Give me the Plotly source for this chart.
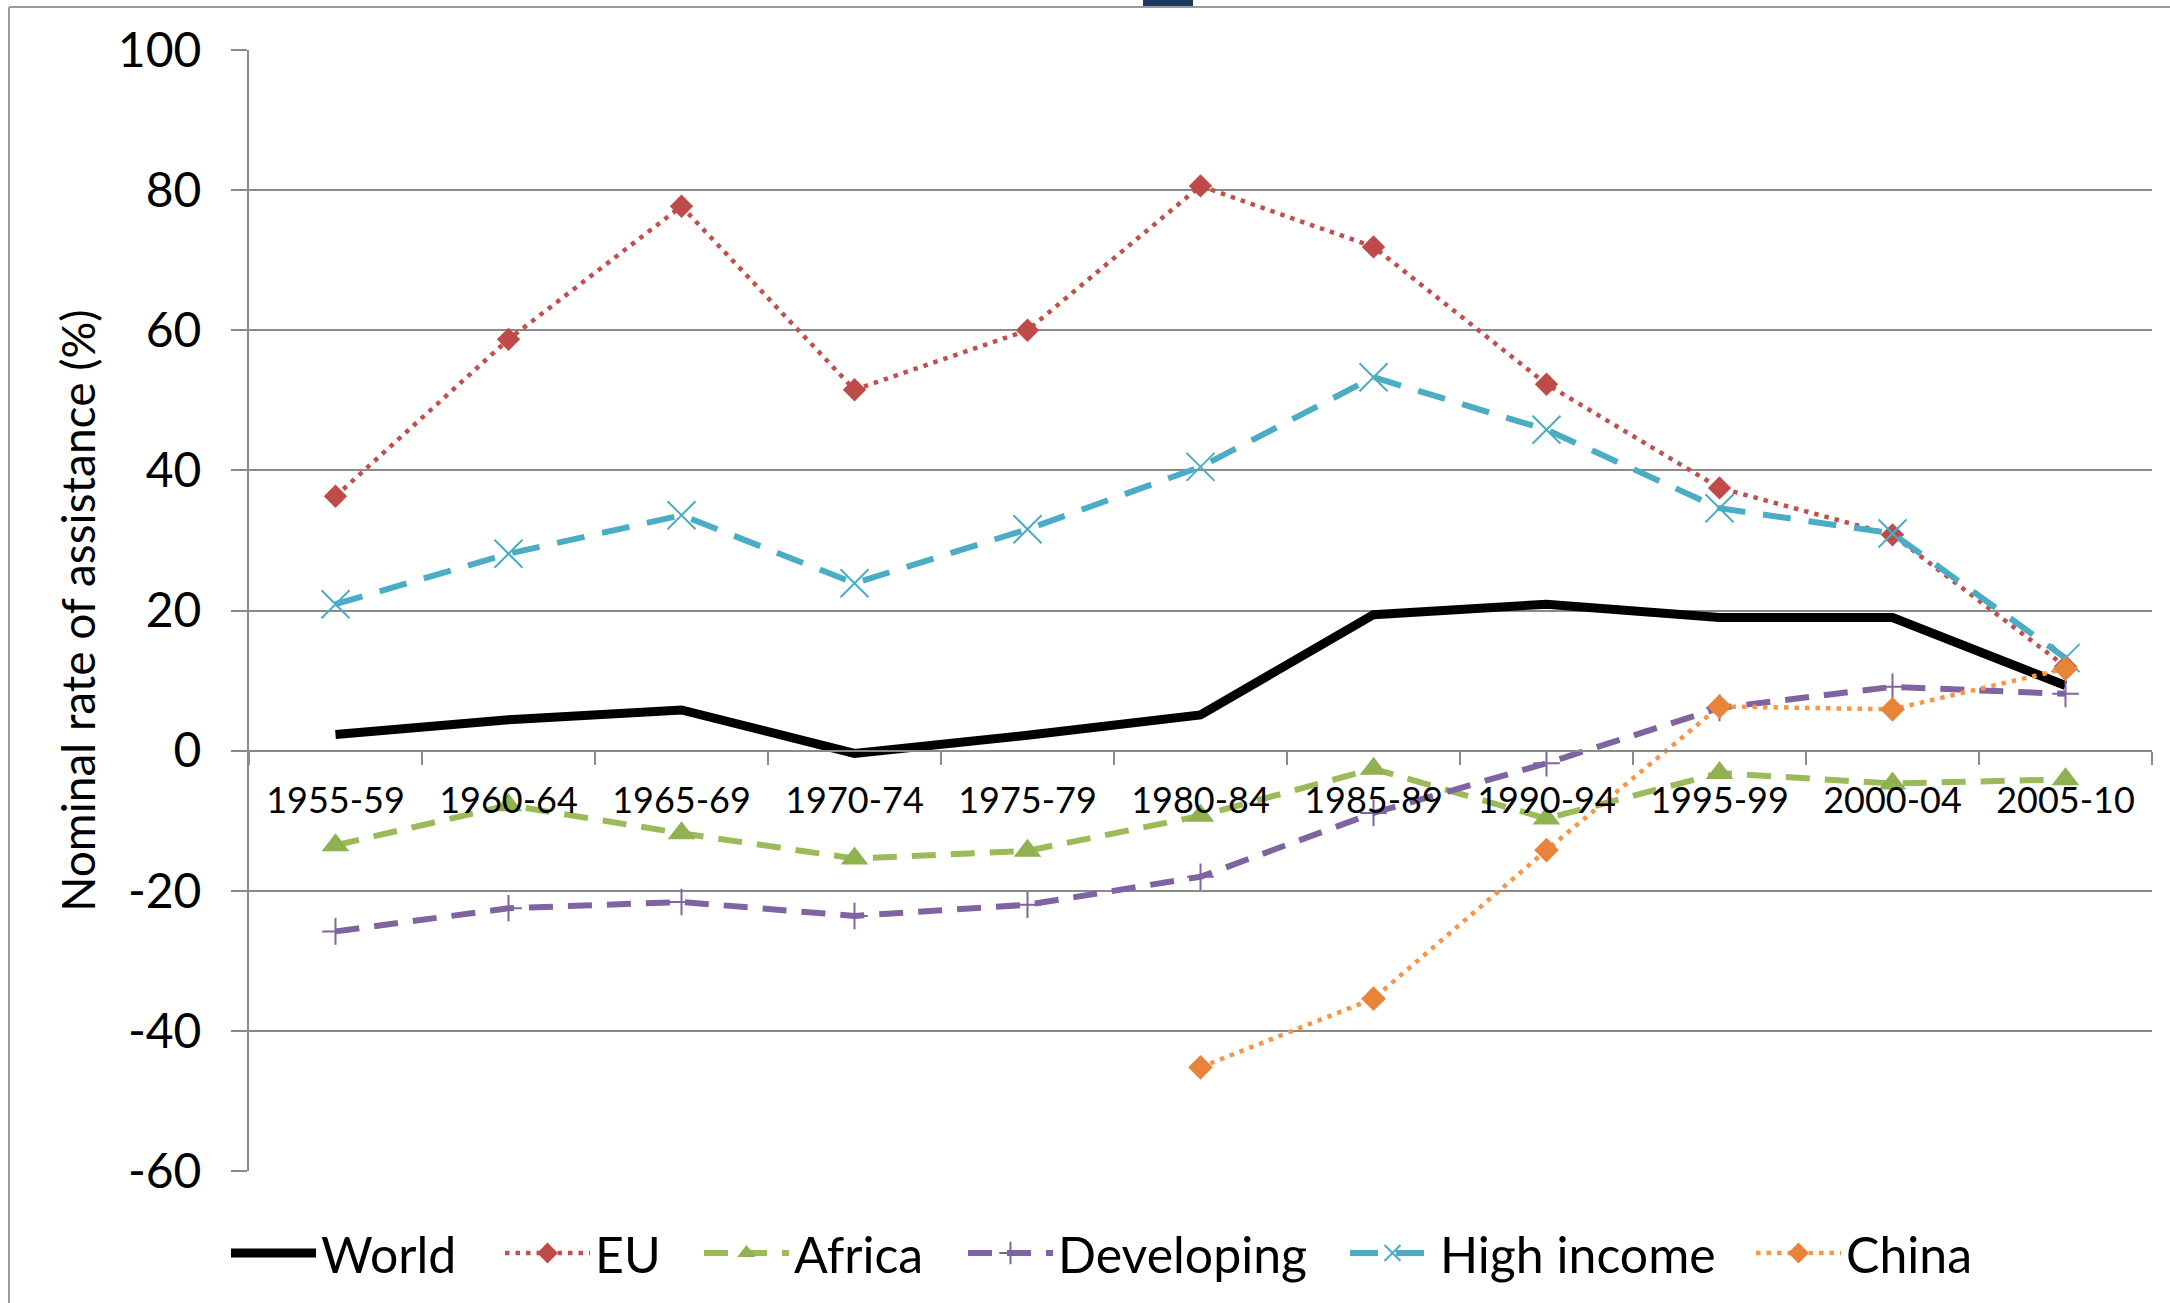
import plotly.graph_objects as go

categories = ["1955-59", "1960-64", "1965-69", "1970-74", "1975-79", "1980-84",
              "1985-89", "1990-94", "1995-99", "2000-04", "2005-10"]

world = [2.3, 4.4, 5.8, -0.4, 2.2, 5.1, 19.4, 20.9, 19.0, 19.0, 9.3]
eu = [36.3, 58.7, 77.7, 51.5, 60.0, 80.6, 71.9, 52.3, 37.5, 30.8, 12.0]
africa = [-13.5, -7.8, -11.8, -15.4, -14.3, -9.3, -2.6, -9.7, -3.2, -4.7, -4.1]
developing = [-25.8, -22.5, -21.6, -23.6, -22.0, -18.0, -8.9, -1.8, 6.1, 9.1, 8.1]
high_income = [20.9, 28.1, 33.6, 23.9, 31.6, 40.5, 53.3, 45.8, 34.6, 31.0, 13.2]
china = [None, None, None, None, None, -45.2, -35.4, -14.2, 6.3, 5.9, 11.7]

y_ticks = [-60, -40, -20, 0, 20, 40, 60, 80, 100]
y_tick_labels = ["-60", "-40", "-20", "0", "20", "40", "60", "80", "100"]

FONT = "Lato"
GRID = "#8a8a8a"

W, H = 2170, 1303
ML, MR, MT, MB = 249, 18, 50, 132
PW, PH = W - ML - MR, H - MT - MB


def px_x(v):
    return (v - ML) / PW


def px_y(v):
    return (H - MB - v) / PH


# legend entry line-start positions (pixels) and vertical centre
legend_starts = [232, 506, 705, 969, 1351, 1757]
LEGEND_Y = 1253

fig = go.Figure()

fig.add_trace(go.Scatter(
    x=categories, y=world, name="World", mode="lines",
    line=dict(color="black", width=9), legend="legend",
))
fig.add_trace(go.Scatter(
    x=categories, y=eu, name="EU", mode="lines+markers",
    line=dict(color="#C0504D", width=4.5, dash="4.5px,6px"),
    marker=dict(symbol="diamond", size=18, color="#BE4B48"), legend="legend2",
))
fig.add_trace(go.Scatter(
    x=categories, y=africa, name="Africa", mode="lines+markers",
    line=dict(color="#9BBB59", width=6, dash="24px,15px"),
    marker=dict(symbol="triangle-up", size=24, color="#8FB150"), legend="legend3",
))
fig.add_trace(go.Scatter(
    x=categories, y=developing, name="Developing", mode="lines+markers",
    line=dict(color="#8064A2", width=6, dash="24px,15px"),
    marker=dict(symbol="cross-thin", size=19, color="#8064A2",
                line=dict(color="#8064A2", width=2)), legend="legend4",
))
fig.add_trace(go.Scatter(
    x=categories, y=high_income, name="High income", mode="lines+markers",
    line=dict(color="#4BACC6", width=6, dash="28px,18px"),
    marker=dict(symbol="x-thin", size=28, color="#4BACC6",
                line=dict(color="#4BACC6", width=2)), legend="legend5",
))
fig.add_trace(go.Scatter(
    x=categories, y=china, name="China", mode="lines+markers",
    line=dict(color="#F79646", width=4.5, dash="4.5px,6px"),
    marker=dict(symbol="diamond", size=19, color="#E8843A"),
    connectgaps=False, legend="legend6",
))

shapes = [
    # chart area border (top and left)
    dict(type="line", xref="paper", yref="paper",
         x0=px_x(9), x1=px_x(W + 5), y0=px_y(7), y1=px_y(7),
         line=dict(color="#9a9a9a", width=2)),
    dict(type="line", xref="paper", yref="paper",
         x0=px_x(9), x1=px_x(9), y0=px_y(7), y1=px_y(H + 5),
         line=dict(color="#9a9a9a", width=2)),
    # small navy tab at the top
    dict(type="rect", xref="paper", yref="paper",
         x0=px_x(1143), x1=px_x(1193), y0=px_y(-10), y1=px_y(6),
         fillcolor="#1B3A60", line=dict(width=0), layer="above"),
]

legends = {}
for i, start in enumerate(legend_starts):
    key = "legend" if i == 0 else f"legend{i + 1}"
    legends[key] = dict(
        orientation="h", x=px_x(start - 6), y=px_y(LEGEND_Y),
        xanchor="left", yanchor="middle",
        font=dict(family=FONT, size=50, color="black"),
        itemwidth=85, bgcolor="rgba(0,0,0,0)", borderwidth=0,
    )

fig.update_layout(
    width=W, height=H,
    margin=dict(l=ML, r=MR, t=MT, b=MB, autoexpand=False),
    paper_bgcolor="white", plot_bgcolor="white",
    font=dict(family=FONT, color="black", size=40),
    showlegend=True,
    shapes=shapes,
    xaxis=dict(
        type="category", categoryorder="array", categoryarray=categories,
        range=[-0.5, len(categories) - 0.5],
        anchor="free", position=(0 - y_ticks[0]) / (y_ticks[-1] - y_ticks[0]),
        showline=True, linecolor=GRID, linewidth=2,
        ticks="outside", tickson="boundaries", ticklen=13, tickcolor=GRID, tickwidth=2,
        showgrid=False, zeroline=False,
        tickfont=dict(family=FONT, size=36, color="black"),
        ticklabelstandoff=18,
    ),
    yaxis=dict(
        range=[y_ticks[0], y_ticks[-1]], tickvals=y_ticks, ticktext=y_tick_labels,
        showline=True, linecolor=GRID, linewidth=2,
        ticks="outside", ticklen=16, tickcolor=GRID, tickwidth=2,
        showgrid=True, gridcolor=GRID, gridwidth=2, zeroline=False,
        tickfont=dict(family=FONT, size=48, color="black"),
        ticklabelstandoff=20,
        title=dict(text="Nominal rate of assistance (%)",
                   font=dict(family=FONT, size=46, color="black"), standoff=8),
        automargin=False,
    ),
    **legends,
)

fig.write_html("out.html", config={"displayModeBar": False},
               post_script="document.body.style.margin='0px';")
